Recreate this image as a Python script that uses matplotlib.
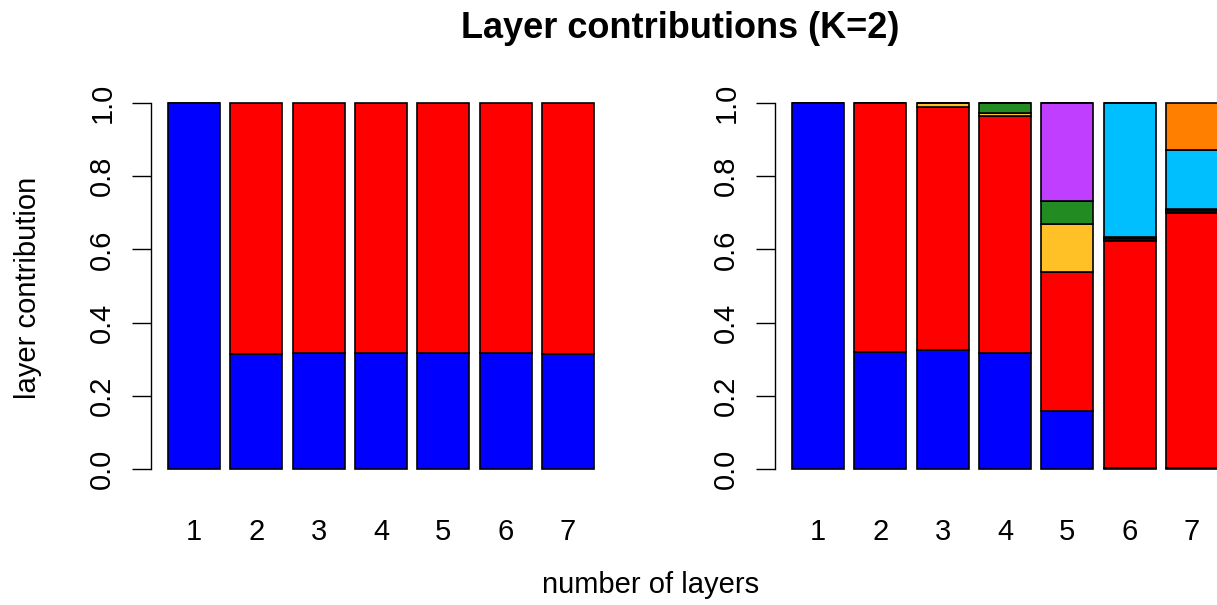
import matplotlib.pyplot as plt

plt.rcParams['font.family'] = ['Liberation Sans', 'DejaVu Sans']

# number of layers on the x axis
n_layers = ['1', '2', '3', '4', '5', '6', '7']

# left panel: contribution of each layer
left_l1 = [1.000, 0.314, 0.318, 0.318, 0.317, 0.316, 0.313]
left_l2 = [0.000, 0.686, 0.682, 0.682, 0.683, 0.684, 0.687]

# right panel: contribution of each layer
right_l1 = [1.000, 0.319, 0.325, 0.317, 0.158, 0.002, 0.002]
right_l2 = [0.000, 0.681, 0.665, 0.647, 0.380, 0.620, 0.697]
right_l3 = [0.000, 0.000, 0.010, 0.008, 0.132, 0.004, 0.004]
right_l4 = [0.000, 0.000, 0.000, 0.028, 0.063, 0.004, 0.004]
right_l5 = [0.000, 0.000, 0.000, 0.000, 0.267, 0.004, 0.003]
right_l6 = [0.000, 0.000, 0.000, 0.000, 0.000, 0.366, 0.163]
right_l7 = [0.000, 0.000, 0.000, 0.000, 0.000, 0.000, 0.127]

layer_colors = ['#0000FF', '#FF0000', '#FFC125', '#228B22', '#BF3EFF', '#00BFFF', '#FF7F00']

W, H = 1217, 605
fig = plt.figure(figsize=(W / 100, H / 100), dpi=100)

# axes placed in pixel coords like R's plot regions
def px_axes(x0, x1, ytop, ybot):
    return fig.add_axes([x0 / W, 1 - ybot / H, (x1 - x0) / W, (ybot - ytop) / H])

ax_left = px_axes(151, 611, 88.4, 483.6)
ax_right = px_axes(775, 1235, 88.4, 483.6)

xpos = [0.7 + 1.2 * i for i in range(len(n_layers))]

def stacked(ax, series):
    bottom = [0.0] * len(xpos)
    for vals, col in zip(series, layer_colors):
        ax.bar(xpos, vals, width=1.0, bottom=bottom, color=col,
               edgecolor='black', linewidth=1.2)
        bottom = [b + v for b, v in zip(bottom, vals)]

    ax.set_xlim(-0.128, 8.728)
    ax.set_ylim(-0.04, 1.04)
    for s in ['top', 'right', 'bottom']:
        ax.spines[s].set_visible(False)
    ax.spines['left'].set_bounds(0, 1)
    ax.spines['left'].set_linewidth(1.0)
    ax.set_yticks([0, 0.2, 0.4, 0.6, 0.8, 1.0])
    ax.set_yticklabels(['0.0', '0.2', '0.4', '0.6', '0.8', '1.0'],
                       rotation=90, va='center')
    ax.tick_params(axis='y', length=14, width=1.0, pad=11, labelsize=21)
    ax.set_xticks(xpos)
    ax.set_xticklabels(n_layers)
    ax.tick_params(axis='x', length=0, pad=25, labelsize=21)
    ax.patch.set_visible(False)

stacked(ax_left, [left_l1, left_l2])
stacked(ax_right, [right_l1, right_l2, right_l3, right_l4,
                   right_l5, right_l6, right_l7])

fig.text(680 / W, 1 - 28 / H, 'Layer contributions (K=2)', fontsize=26,
         fontweight='bold', ha='center', va='center')
fig.text(651 / W, 1 - 585 / H, 'number of layers', fontsize=21,
         ha='center', va='center')
fig.text(28 / W, 1 - 288 / H, 'layer contribution', fontsize=21,
         ha='center', va='center', rotation=90)

fig.savefig('out.png', dpi=100)
